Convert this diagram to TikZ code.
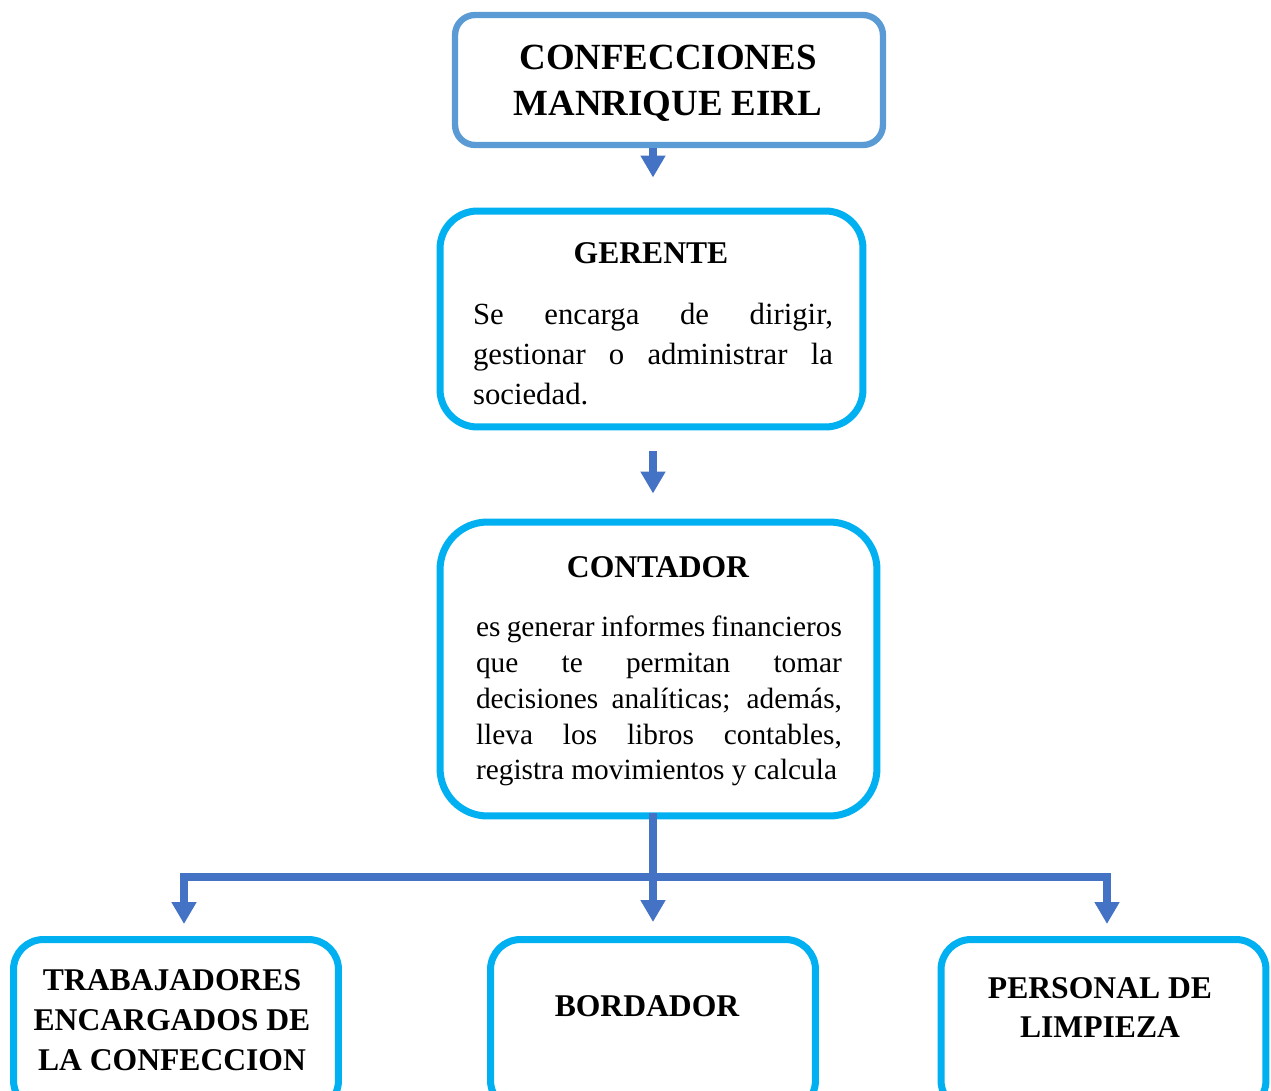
\documentclass[tikz,border=0pt]{standalone}
\usepackage{fontspec}
\setmainfont{Liberation Serif}
\usetikzlibrary{arrows.meta}

\definecolor{headblue}{HTML}{5B9BD5}
\definecolor{boxcyan}{HTML}{00B0F0}
\definecolor{linkblue}{HTML}{4472C4}

\tikzstyle{headbox}=[draw=headblue,line width=3.6pt,rounded corners=0.4cm,inner sep=0pt]
\tikzstyle{unitbox}=[draw=boxcyan,line width=4pt,inner sep=0pt]
\tikzstyle{title}=[font=\bfseries\fontsize{18}{22.7}\selectfont,align=center,inner sep=0pt]
\tikzstyle{body}=[align=left,inner sep=0pt]
\tikzstyle{link}=[draw=linkblue,line width=4pt,-{Triangle[length=12.5pt,width=13.5pt]}]
\newcommand{\spreadline}[2]{\makebox[#1][s]{#2}}

\begin{document}
\begin{tikzpicture}[x=0.02cm, y=-0.02cm]
    \useasboundingbox (0,0) rectangle (1271,1091);
    % First we draw the boxes
    \node[headbox, minimum width=8.56cm, minimum height=2.6cm] (empresa) at (669,80) {};
    \node[unitbox, rounded corners=0.75cm, minimum width=8.46cm, minimum height=4.32cm] (gerente) at (651.5,319) {};
    \node[unitbox, rounded corners=0.95cm, minimum width=8.74cm, minimum height=5.88cm] (contador) at (658.5,669) {};
    \foreach \pos/\name in {{(176,1025)/trabajadores}, {(653,1025)/bordador}, {(1103.5,1025)/limpieza}}
        \node[unitbox, rounded corners=0.6cm, minimum width=6.5cm, minimum height=3.42cm] (\name) at \pos {};

    % Texts inside the boxes
    \node[title, font=\bfseries\fontsize{21}{26}\selectfont] (empresatext) at (668,83) {CONFECCIONES\\MANRIQUE EIRL};
    \node[title] (gerentetitle) at (651,253) {GERENTE};
    \node[body, font=\fontsize{17.5}{22.7}\selectfont] (gerentetext) at (653,354)
        {\spreadline{7.2cm}{Se encarga de dirigir,}\\
         \spreadline{7.2cm}{gestionar o administrar la}\\
         sociedad.};
    \node[title] (contadortitle) at (658,567) {CONTADOR};
    \node[body, font=\fontsize{16.7}{20.4}\selectfont] (contadortext) at (659,701)
        {\spreadline{7.32cm}{es generar informes financieros}\\
         \spreadline{7.32cm}{que te permitan tomar}\\
         \spreadline{7.32cm}{decisiones analíticas; además,}\\
         \spreadline{7.32cm}{lleva los libros contables,}\\
         registra movimientos y calcula};
    \node[title] (trabajadorestext) at (172,1020) {TRABAJADORES\\ENCARGADOS DE\\LA CONFECCION};
    \node[title] (bordadortext) at (647,1006) {BORDADOR};
    \node[title, font=\bfseries\fontsize{18}{22.2}\selectfont] (limpiezatext) at (1100,1008) {PERSONAL DE\\LIMPIEZA};

    % Connect boxes with arrows
    \coordinate (bus) at (653,877);
    \draw[link, shorten >=0.6cm] (bus |- empresa.south) -- (bus |- gerente.north);
    \draw[link, shorten <=0.42cm, shorten >=0.5cm] (bus |- gerente.south) -- (bus |- contador.north);
    \draw[link, shorten <=-0.12cm, shorten >=0.28cm] (bordador.north |- contador.south) -- (bordador.north);
    \draw[link, shorten >=0.24cm] (bus) -| ([xshift=0.16cm]trabajadores.north);
    \draw[link, shorten >=0.24cm] (bus) -| ([xshift=0.07cm]limpieza.north);
\end{tikzpicture}
\end{document}
